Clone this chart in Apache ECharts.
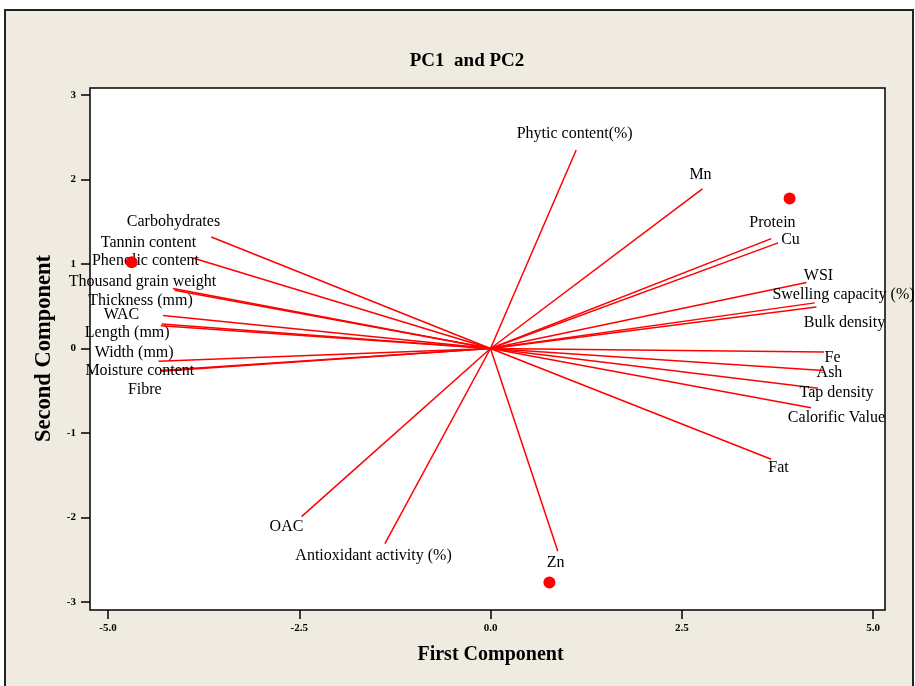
<!DOCTYPE html>
<html>
<head>
<meta charset="utf-8">
<script src="https://cdn.jsdelivr.net/npm/echarts@6/dist/echarts.min.js"></script>
<style>html,body{margin:0;padding:0;background:#fff}#c{width:915px;height:686px}</style>
</head>
<body>
<div id="c"></div>
<script>
// Variable names
const variables = ["Phytic content(%)","Mn","Protein","Cu","WSI","Swelling capacity (%)","Bulk density","Fe","Ash","Tap density","Calorific Value","Fat","Carbohydrates","Tannin content","Phenolic content","Thousand grain weight","Thickness (mm)","WAC","Length (mm)","Width (mm)","Moisture content","Fibre","OAC","Antioxidant activity (%)","Zn"];
// Loading vector endpoints (PC1, PC2)
const pc1 = [1.12, 2.77, 3.67, 3.76, 4.13, 4.24, 4.26, 4.36, 4.35, 4.28, 4.19, 3.67, -3.65, -3.89, -4.15, -4.13, -4.28, -4.30, -4.31, -4.34, -4.32, -4.30, -2.47, -1.38, 0.88];
const pc2 = [2.35, 1.89, 1.30, 1.25, 0.78, 0.54, 0.49, -0.04, -0.26, -0.47, -0.70, -1.31, 1.32, 1.07, 0.71, 0.69, 0.39, 0.29, 0.27, -0.15, -0.26, -0.27, -1.99, -2.31, -2.40];
// Label anchor points (data units)
const labelX = [1.10, 2.745, 3.686, 3.922, 4.288, 4.614, 4.627, 4.471, 4.431, 4.523, 4.523, 3.765, -4.144, -4.471, -4.51, -4.549, -4.575, -4.824, -4.749, -4.658, -4.584, -4.519, -2.667, -1.529, 0.85];
const labelY = [2.545, 2.06, 1.492, 1.291, 0.865, 0.64, 0.309, -0.106, -0.283, -0.52, -0.816, -1.407, 1.504, 1.255, 1.042, 0.794, 0.569, 0.399, 0.187, -0.047, -0.26, -0.488, -2.106, -2.449, -2.532];
// Score points
const scoreX = [-4.69, 3.91, 0.77];
const scoreY = [1.02, 1.775, -2.77];
// Axis ticks
const xTicks = [-5.0, -2.5, 0.0, 2.5, 5.0];
const yTicks = [-3, -2, -1, 0, 1, 2, 3];

const serif = '"Liberation Serif","Times New Roman",serif';
const chart = echarts.init(document.getElementById('c'));
const option = {
  backgroundColor: '#ffffff',
  animation: false,
  title: {
    text: 'PC1  and PC2', left: 462, top: 47, textAlign: 'center',
    textStyle: {fontFamily: serif, fontWeight: 'bold', fontSize: 19, color: '#000'}
  },
  graphic: [
    {type: 'rect', z: -10, shape: {x: 5, y: 10, width: 908, height: 690}, style: {fill: '#efebe0', stroke: '#222', lineWidth: 2}},
    {type: 'rect', z: -9, shape: {x: 90, y: 88, width: 795, height: 522}, style: {fill: '#ffffff', stroke: '#000', lineWidth: 1.5}}
  ],
  grid: {left: 108, right: 42, top: 95, bottom: 84, containLabel: false},
  xAxis: {
    type: 'value', min: xTicks[0], max: xTicks[xTicks.length-1], interval: 2.5, offset: 8,
    name: 'First Component', nameLocation: 'middle', nameGap: 35,
    nameTextStyle: {fontFamily: serif, fontWeight: 'bold', fontSize: 20, color: '#000'},
    axisLine: {show: false, onZero: false}, splitLine: {show: false},
    axisTick: {show: true, length: 9, lineStyle: {color: '#000', width: 1.5}},
    axisLabel: {margin: 13, fontFamily: serif, fontWeight: 'bold', fontSize: 11, color: '#000', formatter: v => v.toFixed(1)}
  },
  yAxis: {
    type: 'value', min: yTicks[0], max: yTicks[yTicks.length-1], interval: 1, offset: 18,
    name: 'Second Component', nameLocation: 'middle', nameGap: 30,
    nameTextStyle: {fontFamily: serif, fontWeight: 'bold', fontSize: 22.5, color: '#000'},
    axisLine: {show: false, onZero: false}, splitLine: {show: false},
    axisTick: {show: true, length: 9, lineStyle: {color: '#000', width: 1.5}},
    axisLabel: {margin: 14, fontFamily: serif, fontWeight: 'bold', fontSize: 11, color: '#000'}
  },
  series: [
    {
      type: 'lines', coordinateSystem: 'cartesian2d', z: 3,
      lineStyle: {color: '#ff0000', width: 1.5, opacity: 1},
      data: variables.map((n, i) => ({name: n, coords: [[0, 0], [pc1[i], pc2[i]]]}))
    },
    {
      type: 'scatter', symbolSize: 0, z: 4,
      itemStyle: {opacity: 1},
      label: {show: true, position: 'inside', formatter: p => p.name, fontFamily: serif, fontSize: 16, color: '#000'},
      data: variables.map((n, i) => ({name: n, value: [labelX[i], labelY[i]]}))
    },
    {
      type: 'scatter', symbol: 'circle', symbolSize: 12, z: 5,
      itemStyle: {color: '#ff0000', opacity: 1},
      data: scoreX.map((x, i) => [x, scoreY[i]])
    }
  ]
};
chart.setOption(option);
</script>
</body>
</html>
